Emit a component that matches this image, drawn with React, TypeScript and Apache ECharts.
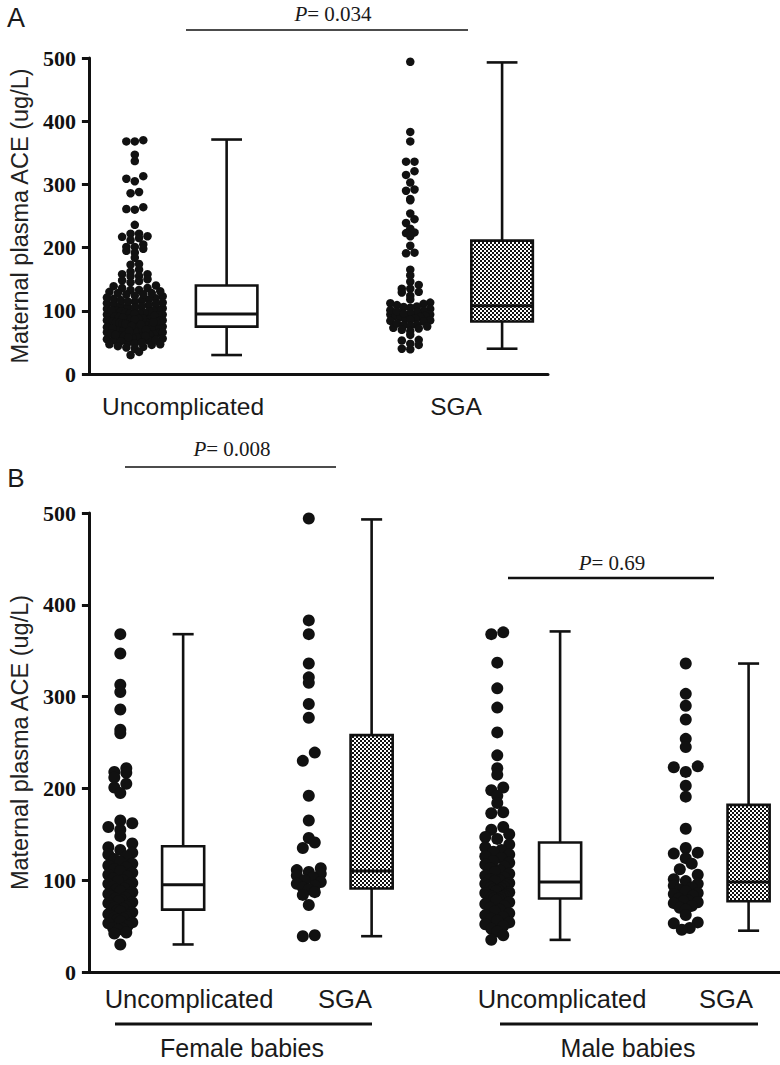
import React, { useEffect, useRef } from "react";
import * as echarts from "echarts";

// ---------- data ----------
const panelALabels = ["Uncomplicated", "SGA"];
const panelBLabels = ["Uncomplicated", "SGA", "Uncomplicated", "SGA"];
const panelBGroups = ["Female babies", "Male babies"];
const yTickValues = [0, 100, 200, 300, 400, 500];
const pValueA = "0.034";
const pValueFemale = "0.008";
const pValueMale = "0.69";

const femaleUncomplicated = [
  368, 347, 313, 305, 286, 264, 260, 222, 218, 217, 212, 205, 201, 195, 165, 162, 158, 155, 148, 140,
  136, 133, 130, 128, 126, 123, 120, 118, 116, 114, 112, 110, 108, 106, 104, 102, 100, 99, 97, 96,
  94, 93, 91, 90, 88, 87, 85, 84, 82, 81, 80, 78, 77, 76, 75, 73, 72, 71, 70, 69,
  67, 66, 65, 63, 62, 61, 60, 59, 58, 57, 55, 54, 53, 50, 48, 47, 46, 43, 42, 30,
];
const maleUncomplicated = [
  370, 368, 337, 309, 288, 261, 236, 222, 215, 201, 198, 192, 184, 174, 173, 158, 155, 150, 147, 145,
  139, 136, 133, 131, 128, 126, 124, 121, 119, 117, 115, 113, 111, 109, 107, 105, 103, 101, 100, 99,
  97, 96, 95, 94, 93, 92, 91, 90, 89, 88, 87, 86, 85, 84, 83, 83, 82, 82, 81, 80,
  79, 78, 76, 74, 72, 70, 68, 66, 64, 62, 60, 58, 56, 54, 52, 50, 47, 44, 40, 35,
];
const femaleSGA = [
  494, 383, 368, 336, 321, 315, 292, 277, 239, 230, 192, 165, 146, 141, 135, 113,
  111, 109, 107, 105, 103, 100, 98, 96, 94, 92, 90, 87, 84, 73, 40, 39,
];
const maleSGA = [
  336, 303, 290, 275, 254, 245, 224, 223, 218, 203, 191, 156, 135, 130, 129, 124, 118, 112, 106, 101, 99,
  96, 94, 92, 90, 88, 86, 85, 83, 80, 78, 77, 76, 75, 72, 70, 68, 62, 54, 53, 48, 46,
];
const allUncomplicated = femaleUncomplicated.concat(maleUncomplicated);
const allSGA = femaleSGA.concat(maleSGA);

// box stats: [min, Q1, median, Q3, max]
const boxAUncomplicated = [30, 75, 95, 140, 371];
const boxASGA = [40, 83, 108, 211, 493];
const boxFemaleUncomplicated = [30, 68, 95, 137, 368];
const boxFemaleSGA = [39, 91, 110, 258, 493];
const boxMaleUncomplicated = [35, 80, 98, 141, 371];
const boxMaleSGA = [45, 77, 98, 182, 336];

// ---------- layout ----------
const W = 780;
const H = 1065;
const A = { left: 87, top: 58, width: 461, height: 316, xMax: 5 };
const B = { left: 87, top: 513, width: 693, height: 459, xMax: 11 };
const Y_MAX = 500;
const SERIF = "'Liberation Serif', 'Times New Roman', serif";
const SANS = "'Liberation Sans', Arial, sans-serif";
const INK = "#111";

function swarmOffsets(values: number[], pxPerVal: number, dotPx: number, binPx: number, maxHalfPx: number) {
  const offsets = new Array(values.length).fill(0);
  const bins: Record<string, number[]> = {};
  values.forEach((v, i) => {
    const b = Math.floor((v * pxPerVal) / binPx);
    (bins[b] = bins[b] || []).push(i);
  });
  Object.keys(bins).forEach((key) => {
    const members = bins[key].slice().sort((a, b) => values[a] - values[b]);
    const k = members.length;
    const step = k > 1 ? Math.min(dotPx, (2 * maxHalfPx) / (k - 1)) : 0;
    const slots: number[] = [];
    for (let j = 0; j < k; j++) slots.push((j - (k - 1) / 2) * step);
    slots.sort((a, b) => Math.abs(a) - Math.abs(b) || a - b);
    members.forEach((m, j) => {
      offsets[m] = slots[j];
    });
  });
  return offsets;
}

function swarmData(values: number[], center: number, panel: typeof A, dotPx: number, binPx: number, maxHalfPx: number) {
  const pxPerVal = panel.height / Y_MAX;
  const pxPerX = panel.width / panel.xMax;
  const off = swarmOffsets(values, pxPerVal, dotPx, binPx, maxHalfPx);
  return values.map((v, i) => [center + off[i] / pxPerX, v]);
}

function makeChecker() {
  const c = document.createElement("canvas");
  c.width = 4;
  c.height = 4;
  const ctx = c.getContext("2d")!;
  ctx.fillStyle = "#fff";
  ctx.fillRect(0, 0, 4, 4);
  ctx.fillStyle = "#111";
  ctx.fillRect(0, 0, 2, 2);
  ctx.fillRect(2, 2, 2, 2);
  return c;
}

export default function App() {
  const ref = useRef<HTMLDivElement>(null);

  useEffect(() => {
    document.body.style.margin = "0";
    if (!ref.current) return;
    const chart = echarts.init(ref.current, null, { renderer: "svg" });
    const pattern: any = { image: makeChecker(), repeat: "repeat", imageWidth: 4, imageHeight: 4 };

    const renderBox = (params: any, api: any) => {
      const x = api.value(0);
      const mn = api.value(1), q1 = api.value(2), med = api.value(3), q3 = api.value(4), mx = api.value(5);
      const hatched = api.value(6) === 1;
      const halfW = api.size([0.335, 0])[0];
      const capHalf = halfW * 0.5;
      const pMin = api.coord([x, mn]);
      const pQ1 = api.coord([x, q1]);
      const pMed = api.coord([x, med]);
      const pQ3 = api.coord([x, q3]);
      const pMax = api.coord([x, mx]);
      const cx = pMin[0];
      const st = { stroke: INK, lineWidth: 2.6 };
      return {
        type: "group",
        children: [
          { type: "line", shape: { x1: cx, y1: pMax[1], x2: cx, y2: pQ3[1] }, style: st },
          { type: "line", shape: { x1: cx, y1: pQ1[1], x2: cx, y2: pMin[1] }, style: st },
          { type: "line", shape: { x1: cx - capHalf, y1: pMax[1], x2: cx + capHalf, y2: pMax[1] }, style: st },
          { type: "line", shape: { x1: cx - capHalf, y1: pMin[1], x2: cx + capHalf, y2: pMin[1] }, style: st },
          {
            type: "rect",
            shape: { x: cx - halfW, y: pQ3[1], width: 2 * halfW, height: pQ1[1] - pQ3[1] },
            style: { fill: hatched ? pattern : "#fff", stroke: INK, lineWidth: 2.6 },
          },
          { type: "line", shape: { x1: cx - halfW, y1: pMed[1], x2: cx + halfW, y2: pMed[1] }, style: { stroke: INK, lineWidth: 3 } },
        ],
      };
    };

    const yAxisCommon = (gridIndex: number) => ({
      type: "value",
      gridIndex,
      min: 0,
      max: Y_MAX,
      interval: 100,
      name: "Maternal plasma ACE (ug/L)",
      nameLocation: "middle",
      nameGap: 56,
      nameTextStyle: { fontFamily: SANS, fontSize: 23.5, color: "#222" },
      axisLine: { show: true, lineStyle: { color: INK, width: 3 } },
      axisTick: { show: true, length: 7, lineStyle: { color: INK, width: 3 } },
      axisLabel: {
        fontFamily: SERIF,
        fontWeight: "bold",
        fontSize: 22,
        color: INK,
        margin: 13,
        formatter: (v: number) => (yTickValues.includes(v) ? String(v) : ""),
      },
      splitLine: { show: false },
    });
    const xAxisCommon = (gridIndex: number, max: number) => ({
      type: "value",
      gridIndex,
      min: 0,
      max,
      axisLine: { show: true, onZero: false, lineStyle: { color: INK, width: 3 } },
      axisTick: { show: false },
      axisLabel: { show: false },
      splitLine: { show: false },
    });

    const dotA = 8.5;
    const dotB = 12;
    const scatterSeries = (xi: number, data: number[][], size: number) => ({
      type: "scatter",
      xAxisIndex: xi,
      yAxisIndex: xi,
      data,
      symbol: "circle",
      symbolSize: size,
      itemStyle: { color: INK, opacity: 1 },
      silent: true,
    });

    const txt = (text: string, x: number, y: number, size: number, family = SANS, extra: any = {}) => ({
      type: "text",
      x,
      y,
      style: { text, fontSize: size, fontFamily: family, fill: "#1a1a1a", align: "center", verticalAlign: "middle", ...extra },
    });
    const hline = (x1: number, x2: number, y: number, w: number) => ({
      type: "line",
      shape: { x1, y1: y, x2, y2: y },
      style: { stroke: INK, lineWidth: w },
    });
    const pLabel = (val: string, x: number, y: number) => ({
      type: "text",
      x,
      y,
      style: {
        text: "{i|P}{n|= " + val + "}",
        align: "center",
        verticalAlign: "middle",
        rich: {
          i: { fontFamily: SERIF, fontStyle: "italic", fontSize: 21, fill: "#1a1a1a" },
          n: { fontFamily: SERIF, fontSize: 21, fill: "#1a1a1a" },
        },
      },
    });

    const option: any = {
      animation: false,
      backgroundColor: "#fff",
      grid: [
        { left: A.left, top: A.top, width: A.width, height: A.height, containLabel: false },
        { left: B.left, top: B.top, width: B.width, height: B.height, containLabel: false },
      ],
      xAxis: [xAxisCommon(0, A.xMax), xAxisCommon(1, B.xMax)],
      yAxis: [yAxisCommon(0), yAxisCommon(1)],
      series: [
        scatterSeries(0, swarmData(allUncomplicated, 0.5, A, dotA, 6, 28), dotA),
        scatterSeries(0, swarmData(allSGA, 3.5, A, dotA, 6, 20), dotA),
        scatterSeries(1, swarmData(femaleUncomplicated, 0.5, B, dotB, 10, 12), dotB),
        scatterSeries(1, swarmData(femaleSGA, 3.5, B, dotB, 10, 12), dotB),
        scatterSeries(1, swarmData(maleUncomplicated, 6.5, B, dotB, 10, 12), dotB),
        scatterSeries(1, swarmData(maleSGA, 9.5, B, dotB, 10, 12), dotB),
        {
          type: "custom",
          xAxisIndex: 0,
          yAxisIndex: 0,
          renderItem: renderBox,
          encode: { x: 0, y: [1, 2, 3, 4, 5] },
          data: [
            [1.5, ...boxAUncomplicated, 0],
            [4.5, ...boxASGA, 1],
          ],
          silent: true,
        },
        {
          type: "custom",
          xAxisIndex: 1,
          yAxisIndex: 1,
          renderItem: renderBox,
          encode: { x: 0, y: [1, 2, 3, 4, 5] },
          data: [
            [1.5, ...boxFemaleUncomplicated, 0],
            [4.5, ...boxFemaleSGA, 1],
            [7.5, ...boxMaleUncomplicated, 0],
            [10.5, ...boxMaleSGA, 1],
          ],
          silent: true,
        },
      ],
      graphic: [
        txt("A", 16, 18, 27),
        txt("B", 16, 478, 26),
        pLabel(pValueA, 333, 14),
        hline(186, 468, 30, 1.6),
        pLabel(pValueFemale, 232, 449),
        hline(125, 336, 467, 1.6),
        pLabel(pValueMale, 612, 563),
        hline(508, 714, 578, 2.6),
        txt(panelALabels[0], 183, 406, 24.5),
        txt(panelALabels[1], 456, 406, 24.5),
        txt(panelBLabels[0], 189, 999, 25.5),
        txt(panelBLabels[1], 345, 999, 25.5),
        txt(panelBLabels[2], 562, 999, 25.5),
        txt(panelBLabels[3], 726, 999, 25.5),
        hline(115, 372, 1024, 3),
        hline(500, 758, 1024, 3),
        txt(panelBGroups[0], 242, 1048, 25),
        txt(panelBGroups[1], 628, 1048, 25),
      ],
    };
    chart.setOption(option);
    return () => chart.dispose();
  }, []);

  return <div ref={ref} style={{ width: W, height: H }} />;
}
